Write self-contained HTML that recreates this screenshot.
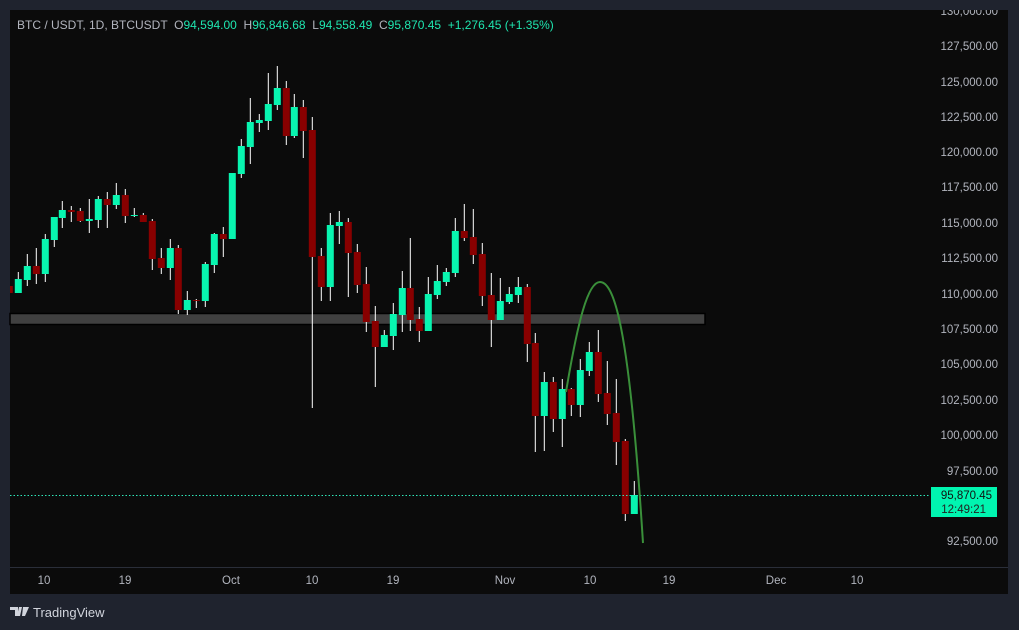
<!DOCTYPE html>
<html><head><meta charset="utf-8"><style>
html,body{margin:0;padding:0;width:1019px;height:630px;background:#1f232e;overflow:hidden;font-family:"Liberation Sans",sans-serif}
#p{position:absolute;left:10px;top:10px;width:998px;height:584px;background:#0b0b0b;overflow:hidden}
svg{position:absolute;left:0;top:0}
</style></head><body>
<div id="p"></div>
<svg width="1019" height="630" id="s"></svg>
<script>
var d=[
[9,0,286,293,286,293],[18,1,279,293,272,293],[27,1,266,280,254,286],[36,0,266,274,248,284],[45,1,239,274,234,282],
[54,1,217,240,217,247],[62,1,210,218,201,228],[71,0,210,212,206,222],[80,0,211,221,208,222],[89,1,219,221,199,233],
[98,1,199,220,196,228],[107,0,199,205,192,228],[116,1,195,205,183,209],[125,0,195,216,189,223],[134,1,215,216,208,217],
[143,0,215,222,213,222],[152,0,221,259,219,270],[161,0,258,268,248,274],[170,1,248,268,239,280],[178,0,248,310,245,314],
[187,1,300,310,291,315],[196,0,300,301,299,308],[205,1,264,301,262,307],[214,1,234,265,233,273],[223,0,234,239,227,257],
[232,1,173,239,173,239],[241,1,146,174,139,178],[250,1,122,147,98,164],[259,1,120,123,114,132],[268,1,104,121,73,130],
[277,1,88,105,66,110],[286,0,88,136,81,145],[294,1,107,136,94,138],[303,0,107,131,100,158],[312,0,130,257,117,408],
[321,0,256,287,248,301],[330,1,225,287,213,301],[339,1,222,226,211,244],[348,0,222,253,218,297],[357,0,252,285,244,293],
[366,0,284,322,267,332],[375,0,321,347,306,387],[384,1,335,347,330,347],[393,1,314,336,303,350],[402,1,288,315,271,332],
[410,0,288,320,238,331],[419,0,319,331,307,342],[428,1,294,331,277,331],[437,1,281,295,265,299],[446,1,272,282,268,286],
[455,1,231,273,218,277],[464,0,231,238,204,241],[473,0,237,255,209,264],[482,0,254,296,243,306],[491,0,295,320,273,347],
[500,1,301,320,278,320],[509,1,294,302,287,304],[518,1,287,295,277,303],[527,0,287,344,284,362],[535,0,343,416,333,452],
[544,1,382,416,372,451],[553,0,382,419,377,432],[562,1,389,419,379,447],[571,0,389,405,388,416],[580,1,370,405,359,417],
[589,1,352,371,342,376],[598,0,352,394,330,402],[607,0,393,414,361,425],[616,0,413,442,379,465],[625,0,441,514,439,521],
[634,1,495,514,481,514]];
var h='<defs><clipPath id="c"><rect x="10" y="10" width="920" height="557"/></clipPath></defs>';
h+='<rect x="10" y="313.5" width="695" height="11" fill="#404040" stroke="#000" stroke-width="1.5"/>';
h+='<g clip-path="url(#c)">';
d.forEach(function(c){var x=c[0]+0.3;
h+='<rect x="'+(x-0.5)+'" y="'+c[4]+'" width="1" height="'+(c[5]-c[4])+'" fill="#fff"/>';
h+='<rect x="'+(x-3.5)+'" y="'+c[2]+'" width="7" height="'+Math.max(1,c[3]-c[2])+'" fill="'+(c[1]?'#08f5b0':'#880000')+'"/>';});
h+='</g>';
h+='<line x1="10" y1="495.5" x2="930" y2="495.5" stroke="#2ee6b8" stroke-width="1" stroke-dasharray="1.5 2"/>';
h+='<path d="M566,392 C578,320 588,282 600,282 C616,282 630,340 643,543" fill="none" stroke="#3a8f3a" stroke-width="2"/>';
h+='<line x1="10" y1="567.5" x2="1008" y2="567.5" stroke="#2a2e39" stroke-width="1"/>';
var L=[[11,"130,000.00"],[46,"127,500.00"],[82,"125,000.00"],[117,"122,500.00"],[152,"120,000.00"],[187,"117,500.00"],[223,"115,000.00"],[258,"112,500.00"],[294,"110,000.00"],[329,"107,500.00"],[364,"105,000.00"],[400,"102,500.00"],[435,"100,000.00"],[471,"97,500.00"],[541,"92,500.00"]];
h+='<g clip-path="url(#c2)"><clipPath id="c2"><rect x="930" y="10" width="78" height="557"/></clipPath>';
L.forEach(function(l){h+='<text x="998" y="'+(l[0]+4)+'" text-anchor="end" font-size="11.5" fill="#b2b5be">'+l[1]+'</text>';});
h+='</g>';
h+='<rect x="931" y="487" width="66" height="30" fill="#00f5b0"/>';
h+='<text x="992" y="499" text-anchor="end" font-size="11.5" fill="#111">95,870.45</text>';
h+='<text x="986" y="513" text-anchor="end" font-size="11.5" fill="#222">12:49:21</text>';
[[44,"10"],[125,"19"],[231,"Oct"],[312,"10"],[393,"19"],[505,"Nov"],[590,"10"],[669,"19"],[776,"Dec"],[857,"10"]].forEach(function(t){
h+='<text x="'+t[0]+'" y="584" text-anchor="middle" font-size="11.5" fill="#b2b5be">'+t[1]+'</text>';});
h+='<text x="17" y="29" font-size="12" fill="#b2b5be" style="white-space:pre">BTC / USDT, 1D, BTCUSDT  O<tspan fill="#1fe6b0">94,594.00</tspan>  H<tspan fill="#1fe6b0">96,846.68</tspan>  L<tspan fill="#1fe6b0">94,558.49</tspan>  C<tspan fill="#1fe6b0">95,870.45  +1,276.45 (+1.35%)</tspan></text>';
h+='<path d="M10,607 h8 v9 h-3 v-6 h-5z M19,607 h3 l-2,9 h-3z M23,607 h6 l-4,9 h-3z" fill="#d1d4dc"/>';
h+='<text x="33" y="617" font-size="13" fill="#d1d4dc">TradingView</text>';
document.getElementById('s').innerHTML=h;
</script>
</body></html>
